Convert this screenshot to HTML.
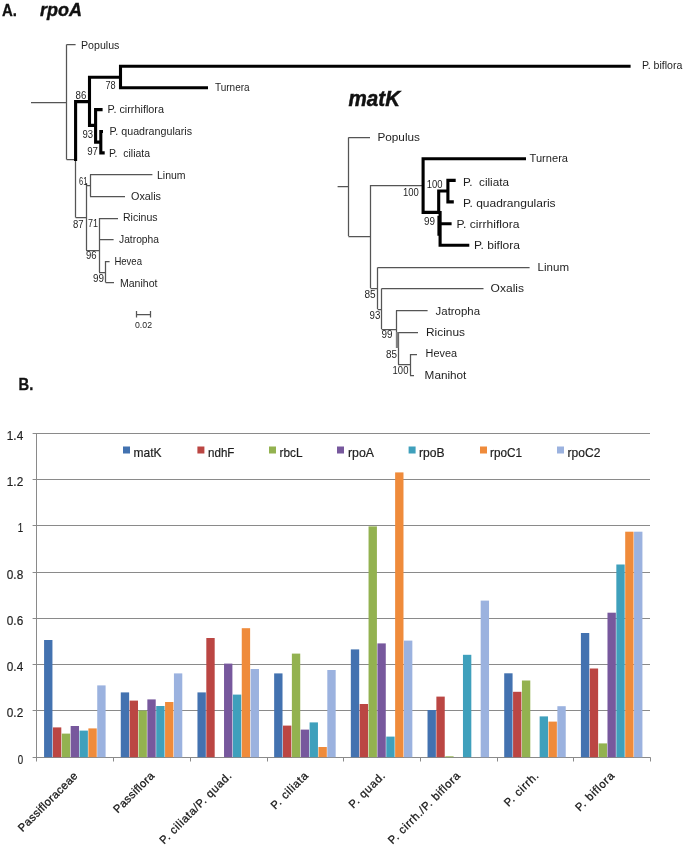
<!DOCTYPE html>
<html lang="en"><head><meta charset="utf-8"><title>Figure</title>
<style>
html,body{margin:0;padding:0;background:#fff}
svg{display:block;will-change:transform;transform:translateZ(0)}
text{font-family:"Liberation Sans",sans-serif}
</style></head><body>
<svg width="685" height="846" viewBox="0 0 685 846">
<rect width="685" height="846" fill="#fff"/>
<text x="2" y="16" font-size="16.4" textLength="15" lengthAdjust="spacingAndGlyphs" fill="#111" font-weight="bold" stroke="#111" stroke-width="0.3">A.</text>
<text x="40" y="16" font-size="19" textLength="42" lengthAdjust="spacingAndGlyphs" fill="#111" font-weight="bold" font-style="italic" stroke="#111" stroke-width="0.4">rpoA</text>
<text x="348.6" y="106" font-size="21.2" textLength="51.4" lengthAdjust="spacingAndGlyphs" fill="#111" font-weight="bold" font-style="italic" stroke="#111" stroke-width="0.5">matK</text>
<text x="18.6" y="389.6" font-size="16.4" textLength="14.8" lengthAdjust="spacingAndGlyphs" fill="#111" font-weight="bold" stroke="#111" stroke-width="0.3">B.</text>
<path d="M31 102.5H66.6M66.5 44.4V159.6M66.6 44.5H75.6M66.6 159.5H76M75.5 160V217.6M75.6 217.5H86M86.5 183V250M86 185.5H90M90.5 174.4V196.4M90 174.5H152.4M90 196.5H125M86 250.5H99M99.5 218V272M99 218.5H118M99 239.5H113.6M99 272.5H105.6M105.5 261V282.4M105.6 261.5H109.6M105.6 282.5H114M136.6 314.5H150.6M136.5 311V317.4M150.5 311V317.4M337.6 186.5H348.4M348.5 137.4V236M348.4 137.5H370M348.4 236.5H370.5M370.5 185V288M370.5 185.5H422M370.5 288.5H377.6M377.5 267.4V309M377.6 267.5H529.6M377.6 309.5H381.6M381.5 288.6V329M381.6 288.5H483.5M381.6 329.5H396M396.5 310.4V348M396 310.5H427.6M398.5 332V364.4M398 332.5H418M398 364.5H410M410.5 354V375.6M410 354.5H417M410 375.5H414" fill="none" stroke="#555" stroke-width="1.25"/>
<path d="M630.6 66.3H120.5V87.7H208M120.5 77.3H89.5V125.4H95.6M89.5 101.6H75.6V161M102.6 109.6H95.6V142.1H100.8M103 131.5H100.8V152.9H104.7M526 158.7H423.1V212.4H440.1M449 191H438.7V213.9M440.1 210.9V245.3H469.3M455.7 180.4H447.9V201.9H453.8M440.1 223.7H451.6" fill="none" stroke="#000" stroke-width="3.1" stroke-linejoin="miter"/>
<rect x="396" y="332" width="2.5" height="16" fill="#808080"/>
<path d="M438.2 215.8V235.7" fill="none" stroke="#000" stroke-width="1.6"/>
<text x="81" y="48.6" font-size="10.5" textLength="38.4" lengthAdjust="spacingAndGlyphs" fill="#1e1e1e">Populus</text>
<text x="642" y="69.4" font-size="10.5" textLength="40.4" lengthAdjust="spacingAndGlyphs" fill="#1e1e1e">P. biflora</text>
<text x="215" y="91" font-size="10.5" textLength="34.6" lengthAdjust="spacingAndGlyphs" fill="#1e1e1e">Turnera</text>
<text x="107.6" y="112.8" font-size="10.5" textLength="56.4" lengthAdjust="spacingAndGlyphs" fill="#1e1e1e">P. cirrhiflora</text>
<text x="109.6" y="135" font-size="10.5" textLength="82.4" lengthAdjust="spacingAndGlyphs" fill="#1e1e1e">P. quadrangularis</text>
<text x="109" y="156.6" font-size="10.5" textLength="41" lengthAdjust="spacingAndGlyphs" fill="#1e1e1e">P.&#160; ciliata</text>
<text x="157" y="178.5" font-size="10.5" textLength="28.6" lengthAdjust="spacingAndGlyphs" fill="#1e1e1e">Linum</text>
<text x="131" y="199.6" font-size="10.5" textLength="30" lengthAdjust="spacingAndGlyphs" fill="#1e1e1e">Oxalis</text>
<text x="123" y="221" font-size="10.5" textLength="34.6" lengthAdjust="spacingAndGlyphs" fill="#1e1e1e">Ricinus</text>
<text x="119" y="242.6" font-size="10.5" textLength="40" lengthAdjust="spacingAndGlyphs" fill="#1e1e1e">Jatropha</text>
<text x="114.4" y="265" font-size="10.5" textLength="27.6" lengthAdjust="spacingAndGlyphs" fill="#1e1e1e">Hevea</text>
<text x="120" y="286.6" font-size="10.5" textLength="37.4" lengthAdjust="spacingAndGlyphs" fill="#1e1e1e">Manihot</text>
<text x="135" y="328" font-size="9" textLength="17" lengthAdjust="spacingAndGlyphs" fill="#1e1e1e">0.02</text>
<text x="105.5" y="88.5" font-size="10.2" textLength="10.2" lengthAdjust="spacingAndGlyphs" fill="#1e1e1e">78</text>
<text x="75.6" y="98.6" font-size="10.2" textLength="10.8" lengthAdjust="spacingAndGlyphs" fill="#1e1e1e">86</text>
<text x="82.4" y="138" font-size="10.2" textLength="10.6" lengthAdjust="spacingAndGlyphs" fill="#1e1e1e">93</text>
<text x="87.2" y="155.3" font-size="10.2" textLength="10.8" lengthAdjust="spacingAndGlyphs" fill="#1e1e1e">97</text>
<text x="79" y="184.6" font-size="10.2" textLength="8.4" lengthAdjust="spacingAndGlyphs" fill="#1e1e1e">61</text>
<text x="73" y="227.6" font-size="10.2" textLength="10.6" lengthAdjust="spacingAndGlyphs" fill="#1e1e1e">87</text>
<text x="88" y="226.6" font-size="10.2" textLength="10" lengthAdjust="spacingAndGlyphs" fill="#1e1e1e">71</text>
<text x="86" y="259.4" font-size="10.2" textLength="10.6" lengthAdjust="spacingAndGlyphs" fill="#1e1e1e">96</text>
<text x="93" y="282" font-size="10.2" textLength="11" lengthAdjust="spacingAndGlyphs" fill="#1e1e1e">99</text>
<text x="377.4" y="140.6" font-size="11.7" textLength="42.6" lengthAdjust="spacingAndGlyphs" fill="#1e1e1e">Populus</text>
<text x="529.6" y="162" font-size="11.7" textLength="38.4" lengthAdjust="spacingAndGlyphs" fill="#1e1e1e">Turnera</text>
<text x="463" y="185.6" font-size="11.7" textLength="46" lengthAdjust="spacingAndGlyphs" fill="#1e1e1e">P.&#160; ciliata</text>
<text x="463" y="206.6" font-size="11.7" textLength="92.6" lengthAdjust="spacingAndGlyphs" fill="#1e1e1e">P. quadrangularis</text>
<text x="456.6" y="227.6" font-size="11.7" textLength="62.8" lengthAdjust="spacingAndGlyphs" fill="#1e1e1e">P. cirrhiflora</text>
<text x="474" y="249" font-size="11.7" textLength="46" lengthAdjust="spacingAndGlyphs" fill="#1e1e1e">P. biflora</text>
<text x="537.6" y="271" font-size="11.7" textLength="31.4" lengthAdjust="spacingAndGlyphs" fill="#1e1e1e">Linum</text>
<text x="490.6" y="291.6" font-size="11.7" textLength="33.4" lengthAdjust="spacingAndGlyphs" fill="#1e1e1e">Oxalis</text>
<text x="435.6" y="314.8" font-size="11.7" textLength="44.4" lengthAdjust="spacingAndGlyphs" fill="#1e1e1e">Jatropha</text>
<text x="426" y="336" font-size="11.7" textLength="39" lengthAdjust="spacingAndGlyphs" fill="#1e1e1e">Ricinus</text>
<text x="425.6" y="356.8" font-size="11.7" textLength="31.4" lengthAdjust="spacingAndGlyphs" fill="#1e1e1e">Hevea</text>
<text x="424.6" y="378.8" font-size="11.7" textLength="41.8" lengthAdjust="spacingAndGlyphs" fill="#1e1e1e">Manihot</text>
<text x="426.8" y="187.6" font-size="10.2" textLength="15.8" lengthAdjust="spacingAndGlyphs" fill="#1e1e1e">100</text>
<text x="403" y="196" font-size="10.2" textLength="15.8" lengthAdjust="spacingAndGlyphs" fill="#1e1e1e">100</text>
<text x="424" y="224.6" font-size="10.2" textLength="11" lengthAdjust="spacingAndGlyphs" fill="#1e1e1e">99</text>
<text x="364.4" y="297.6" font-size="10.2" textLength="11.2" lengthAdjust="spacingAndGlyphs" fill="#1e1e1e">85</text>
<text x="369.6" y="319" font-size="10.2" textLength="10.8" lengthAdjust="spacingAndGlyphs" fill="#1e1e1e">93</text>
<text x="381.4" y="338.4" font-size="10.2" textLength="11" lengthAdjust="spacingAndGlyphs" fill="#1e1e1e">99</text>
<text x="386" y="358" font-size="10.2" textLength="11" lengthAdjust="spacingAndGlyphs" fill="#1e1e1e">85</text>
<text x="392.6" y="374.4" font-size="10.2" textLength="15.8" lengthAdjust="spacingAndGlyphs" fill="#1e1e1e">100</text>
<path d="M32.6 757.5H650.0M32.6 710.5H650.0M32.6 664.5H650.0M32.6 618.5H650.0M32.6 572.5H650.0M32.6 525.5H650.0M32.6 479.5H650.0M32.6 433.5H650.0M36.5 433V757.2M36.5 757.2V761.5M113.5 757.2V761.5M190.5 757.2V761.5M267.5 757.2V761.5M343.5 757.2V761.5M420.5 757.2V761.5M497.5 757.2V761.5M573.5 757.2V761.5M650.5 757.2V761.5" fill="none" stroke="#8a8a8a" stroke-width="1"/>
<rect x="44.08" y="640" width="8.36" height="117.2" fill="#4372B0"/>
<rect x="52.94" y="727.4" width="8.36" height="29.8" fill="#BB4643"/>
<rect x="61.8" y="733.6" width="8.36" height="23.6" fill="#93B250"/>
<rect x="70.66" y="726" width="8.36" height="31.2" fill="#77589D"/>
<rect x="79.52" y="730.6" width="8.36" height="26.6" fill="#3FA0BC"/>
<rect x="88.38" y="728.4" width="8.36" height="28.8" fill="#EF8B3B"/>
<rect x="97.24" y="685.4" width="8.36" height="71.8" fill="#9BB2DF"/>
<rect x="120.77" y="692.4" width="8.36" height="64.8" fill="#4372B0"/>
<rect x="129.63" y="700.6" width="8.36" height="56.6" fill="#BB4643"/>
<rect x="138.49" y="710.6" width="8.36" height="46.6" fill="#93B250"/>
<rect x="147.35" y="699.4" width="8.36" height="57.8" fill="#77589D"/>
<rect x="156.21" y="706" width="8.36" height="51.2" fill="#3FA0BC"/>
<rect x="165.07" y="702" width="8.36" height="55.2" fill="#EF8B3B"/>
<rect x="173.93" y="673.4" width="8.36" height="83.8" fill="#9BB2DF"/>
<rect x="197.46" y="692.4" width="8.36" height="64.8" fill="#4372B0"/>
<rect x="206.32" y="638" width="8.36" height="119.2" fill="#BB4643"/>
<rect x="224.04" y="663.6" width="8.36" height="93.6" fill="#77589D"/>
<rect x="232.9" y="694.6" width="8.36" height="62.6" fill="#3FA0BC"/>
<rect x="241.76" y="628.2" width="8.36" height="129.0" fill="#EF8B3B"/>
<rect x="250.62" y="669" width="8.36" height="88.2" fill="#9BB2DF"/>
<rect x="274.15" y="673.4" width="8.36" height="83.8" fill="#4372B0"/>
<rect x="283.01" y="725.6" width="8.36" height="31.6" fill="#BB4643"/>
<rect x="291.87" y="653.6" width="8.36" height="103.6" fill="#93B250"/>
<rect x="300.73" y="729.6" width="8.36" height="27.6" fill="#77589D"/>
<rect x="309.59" y="722.4" width="8.36" height="34.8" fill="#3FA0BC"/>
<rect x="318.45" y="747" width="8.36" height="10.2" fill="#EF8B3B"/>
<rect x="327.31" y="670" width="8.36" height="87.2" fill="#9BB2DF"/>
<rect x="350.83" y="649.4" width="8.36" height="107.8" fill="#4372B0"/>
<rect x="359.69" y="704" width="8.36" height="53.2" fill="#BB4643"/>
<rect x="368.55" y="526.4" width="8.36" height="230.8" fill="#93B250"/>
<rect x="377.41" y="643.4" width="8.36" height="113.8" fill="#77589D"/>
<rect x="386.27" y="736.6" width="8.36" height="20.6" fill="#3FA0BC"/>
<rect x="395.13" y="472.4" width="8.36" height="284.8" fill="#EF8B3B"/>
<rect x="403.99" y="640.6" width="8.36" height="116.6" fill="#9BB2DF"/>
<rect x="427.52" y="710" width="8.36" height="47.2" fill="#4372B0"/>
<rect x="436.38" y="696.6" width="8.36" height="60.6" fill="#BB4643"/>
<rect x="445.24" y="756.3" width="8.36" height="0.9" fill="#93B250"/>
<rect x="462.96" y="654.8" width="8.36" height="102.4" fill="#3FA0BC"/>
<rect x="480.68" y="600.6" width="8.36" height="156.6" fill="#9BB2DF"/>
<rect x="504.21" y="673.3" width="8.36" height="83.9" fill="#4372B0"/>
<rect x="513.07" y="691.8" width="8.36" height="65.4" fill="#BB4643"/>
<rect x="521.93" y="680.5" width="8.36" height="76.7" fill="#93B250"/>
<rect x="539.65" y="716.4" width="8.36" height="40.8" fill="#3FA0BC"/>
<rect x="548.51" y="721.6" width="8.36" height="35.6" fill="#EF8B3B"/>
<rect x="557.37" y="706.2" width="8.36" height="51.0" fill="#9BB2DF"/>
<rect x="580.9" y="633" width="8.36" height="124.2" fill="#4372B0"/>
<rect x="589.76" y="668.5" width="8.36" height="88.7" fill="#BB4643"/>
<rect x="598.62" y="743.4" width="8.36" height="13.8" fill="#93B250"/>
<rect x="607.48" y="612.7" width="8.36" height="144.5" fill="#77589D"/>
<rect x="616.34" y="564.5" width="8.36" height="192.7" fill="#3FA0BC"/>
<rect x="625.2" y="531.7" width="8.36" height="225.5" fill="#EF8B3B"/>
<rect x="634.06" y="531.7" width="8.36" height="225.5" fill="#9BB2DF"/>
<text x="17.799999999999997" y="763.6" font-size="13" textLength="5.4" lengthAdjust="spacingAndGlyphs" fill="#1e1e1e" stroke="#222" stroke-width="0.2">0</text>
<text x="6.800000000000001" y="717.3" font-size="13" textLength="16.4" lengthAdjust="spacingAndGlyphs" fill="#1e1e1e" stroke="#222" stroke-width="0.2">0.2</text>
<text x="6.800000000000001" y="671.1" font-size="13" textLength="16.4" lengthAdjust="spacingAndGlyphs" fill="#1e1e1e" stroke="#222" stroke-width="0.2">0.4</text>
<text x="6.800000000000001" y="624.8" font-size="13" textLength="16.4" lengthAdjust="spacingAndGlyphs" fill="#1e1e1e" stroke="#222" stroke-width="0.2">0.6</text>
<text x="6.800000000000001" y="578.6" font-size="13" textLength="16.4" lengthAdjust="spacingAndGlyphs" fill="#1e1e1e" stroke="#222" stroke-width="0.2">0.8</text>
<text x="17.799999999999997" y="532.3" font-size="13" textLength="5.4" lengthAdjust="spacingAndGlyphs" fill="#1e1e1e" stroke="#222" stroke-width="0.2">1</text>
<text x="6.800000000000001" y="486.0" font-size="13" textLength="16.4" lengthAdjust="spacingAndGlyphs" fill="#1e1e1e" stroke="#222" stroke-width="0.2">1.2</text>
<text x="6.800000000000001" y="439.8" font-size="13" textLength="16.4" lengthAdjust="spacingAndGlyphs" fill="#1e1e1e" stroke="#222" stroke-width="0.2">1.4</text>
<rect x="123" y="446.5" width="7" height="7" fill="#4372B0"/>
<text x="133.6" y="456.7" font-size="11.9" textLength="28" lengthAdjust="spacingAndGlyphs" fill="#1e1e1e" stroke="#222" stroke-width="0.2">matK</text>
<rect x="197.4" y="446.5" width="7" height="7" fill="#BB4643"/>
<text x="208" y="456.7" font-size="11.9" textLength="26.4" lengthAdjust="spacingAndGlyphs" fill="#1e1e1e" stroke="#222" stroke-width="0.2">ndhF</text>
<rect x="269" y="446.5" width="7" height="7" fill="#93B250"/>
<text x="279.6" y="456.7" font-size="11.9" textLength="23" lengthAdjust="spacingAndGlyphs" fill="#1e1e1e" stroke="#222" stroke-width="0.2">rbcL</text>
<rect x="337" y="446.5" width="7" height="7" fill="#77589D"/>
<text x="348" y="456.7" font-size="11.9" textLength="26" lengthAdjust="spacingAndGlyphs" fill="#1e1e1e" stroke="#222" stroke-width="0.2">rpoA</text>
<rect x="408.6" y="446.5" width="7" height="7" fill="#3FA0BC"/>
<text x="419" y="456.7" font-size="11.9" textLength="25.6" lengthAdjust="spacingAndGlyphs" fill="#1e1e1e" stroke="#222" stroke-width="0.2">rpoB</text>
<rect x="480" y="446.5" width="7" height="7" fill="#EF8B3B"/>
<text x="490" y="456.7" font-size="11.9" textLength="32" lengthAdjust="spacingAndGlyphs" fill="#1e1e1e" stroke="#222" stroke-width="0.2">rpoC1</text>
<rect x="557" y="446.5" width="7" height="7" fill="#9BB2DF"/>
<text x="567.6" y="456.7" font-size="11.9" textLength="32.8" lengthAdjust="spacingAndGlyphs" fill="#1e1e1e" stroke="#222" stroke-width="0.2">rpoC2</text>
<text transform="translate(78.3 776.6) rotate(-45)" text-anchor="end" font-size="11.3" textLength="78.9" lengthAdjust="spacing" fill="#1a1a1a" stroke="#1a1a1a" stroke-width="0.3">Passifloraceae</text>
<text transform="translate(155.0 776.6) rotate(-45)" text-anchor="end" font-size="11.3" textLength="52.6" lengthAdjust="spacing" fill="#1a1a1a" stroke="#1a1a1a" stroke-width="0.3">Passiflora</text>
<text transform="translate(232.1 776.6) rotate(-45)" text-anchor="end" font-size="11.3" textLength="96.3" lengthAdjust="spacing" fill="#1a1a1a" stroke="#1a1a1a" stroke-width="0.3">P. ciliata/P. quad.</text>
<text transform="translate(308.6 776.6) rotate(-45)" text-anchor="end" font-size="11.3" textLength="47.1" lengthAdjust="spacing" fill="#1a1a1a" stroke="#1a1a1a" stroke-width="0.3">P. ciliata</text>
<text transform="translate(385.6 776.6) rotate(-45)" text-anchor="end" font-size="11.3" textLength="45.7" lengthAdjust="spacing" fill="#1a1a1a" stroke="#1a1a1a" stroke-width="0.3">P. quad.</text>
<text transform="translate(460.7 776.6) rotate(-45)" text-anchor="end" font-size="11.3" textLength="96.3" lengthAdjust="spacing" fill="#1a1a1a" stroke="#1a1a1a" stroke-width="0.3">P. cirrh./P. biflora</text>
<text transform="translate(539.1 776.6) rotate(-45)" text-anchor="end" font-size="11.3" textLength="43.2" lengthAdjust="spacing" fill="#1a1a1a" stroke="#1a1a1a" stroke-width="0.3">P. cirrh.</text>
<text transform="translate(615.0 776.6) rotate(-45)" text-anchor="end" font-size="11.3" textLength="49.9" lengthAdjust="spacing" fill="#1a1a1a" stroke="#1a1a1a" stroke-width="0.3">P. biflora</text>
</svg></body></html>
